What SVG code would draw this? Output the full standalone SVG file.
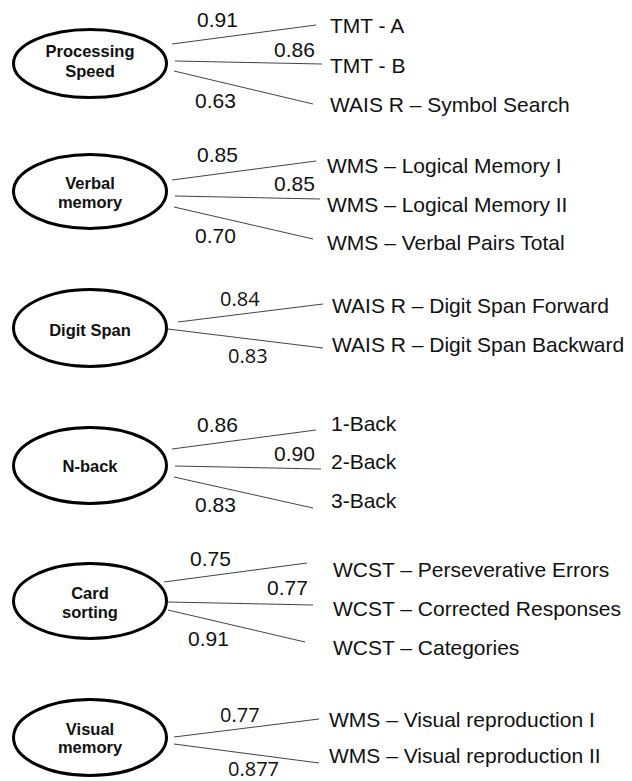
<svg xmlns="http://www.w3.org/2000/svg" width="632" height="781" viewBox="0 0 632 781">
<style>
.node ellipse{fill:#fff;stroke:#000;stroke-width:3}
.nt{font-family:"Liberation Sans",Arial,sans-serif;font-weight:bold;font-size:16.5px;text-anchor:middle;fill:#111}
.lbl{font-family:"Liberation Sans",Arial,sans-serif;font-size:21px;fill:#111}
.lbl2{font-family:"Open Sans","Noto Sans",sans-serif;font-size:20px;fill:#111}
#connectors line{stroke:#444;stroke-width:1}
</style>
<rect width="632" height="781" fill="#fff"/>
<g id="connectors">
<line x1="172" y1="44" x2="316" y2="25"/>
<line x1="175" y1="61" x2="322" y2="64"/>
<line x1="174" y1="71" x2="313" y2="104"/>
<line x1="172" y1="180" x2="316" y2="161"/>
<line x1="175" y1="196" x2="320" y2="199"/>
<line x1="174" y1="207" x2="313" y2="239"/>
<line x1="178" y1="322" x2="323" y2="304"/>
<line x1="168" y1="329" x2="323" y2="348"/>
<line x1="172" y1="449" x2="316" y2="430"/>
<line x1="175" y1="466" x2="321" y2="469"/>
<line x1="174" y1="477" x2="313" y2="508"/>
<line x1="164" y1="582" x2="307" y2="563"/>
<line x1="168" y1="602" x2="313" y2="605"/>
<line x1="168" y1="610" x2="305" y2="642"/>
<line x1="174" y1="737" x2="319" y2="719"/>
<line x1="174" y1="744" x2="319" y2="763"/>
</g>
<g id="processing-speed" class="node">
<ellipse cx="90" cy="63.5" rx="76.5" ry="34"/>
<text class="nt" x="90" y="57">Processing</text>
<text class="nt" x="90" y="77">Speed</text>
</g>
<g id="verbal-memory" class="node">
<ellipse cx="90" cy="191.5" rx="76.5" ry="37"/>
<text class="nt" x="90" y="189">Verbal</text>
<text class="nt" x="90" y="208">memory</text>
</g>
<g id="digit-span" class="node">
<ellipse cx="90" cy="328" rx="76.5" ry="38.5"/>
<text class="nt" x="90" y="336">Digit Span</text>
</g>
<g id="n-back" class="node">
<ellipse cx="90" cy="465.5" rx="76.5" ry="38"/>
<text class="nt" x="90" y="472">N-back</text>
</g>
<g id="card-sorting" class="node">
<ellipse cx="90" cy="601" rx="76.5" ry="37.5"/>
<text class="nt" x="90" y="599">Card</text>
<text class="nt" x="90" y="618">sorting</text>
</g>
<g id="visual-memory" class="node">
<ellipse cx="90" cy="737.5" rx="76.5" ry="38"/>
<text class="nt" x="90" y="735">Visual</text>
<text class="nt" x="90" y="753">memory</text>
</g>
<g id="loadings">
<text class="lbl" x="197" y="27">0.91</text>
<text class="lbl" x="274" y="57">0.86</text>
<text class="lbl" x="195" y="108">0.63</text>
<text class="lbl" x="197" y="162">0.85</text>
<text class="lbl" x="274" y="191">0.85</text>
<text class="lbl" x="195" y="243">0.70</text>
<text class="lbl2" x="220" y="306">0.84</text>
<text class="lbl2" x="228" y="363">0.83</text>
<text class="lbl" x="197" y="432">0.86</text>
<text class="lbl" x="274" y="461">0.90</text>
<text class="lbl" x="195" y="512">0.83</text>
<text class="lbl" x="190" y="566">0.75</text>
<text class="lbl" x="267" y="595">0.77</text>
<text class="lbl" x="188" y="646">0.91</text>
<text class="lbl2" x="220" y="722">0.77</text>
<text class="lbl2" x="228" y="776">0.877</text>
</g>
<g id="indicators">
<text class="lbl" x="330" y="33">TMT - A</text>
<text class="lbl" x="330" y="73">TMT - B</text>
<text class="lbl" x="330" y="112">WAIS R – Symbol Search</text>
<text class="lbl" x="327" y="173">WMS – Logical Memory I</text>
<text class="lbl" x="327" y="212">WMS – Logical Memory II</text>
<text class="lbl" x="327" y="250">WMS – Verbal Pairs Total</text>
<text class="lbl" x="332" y="313">WAIS R – Digit Span Forward</text>
<text class="lbl" x="332" y="352">WAIS R – Digit Span Backward</text>
<text class="lbl" x="331" y="431">1-Back</text>
<text class="lbl" x="331" y="469">2-Back</text>
<text class="lbl" x="331" y="508">3-Back</text>
<text class="lbl" x="333" y="577">WCST – Perseverative Errors</text>
<text class="lbl" x="333" y="616">WCST – Corrected Responses</text>
<text class="lbl" x="333" y="655">WCST – Categories</text>
<text class="lbl" x="329" y="727">WMS – Visual reproduction I</text>
<text class="lbl" x="329" y="763">WMS – Visual reproduction II</text>
</g>
</svg>
